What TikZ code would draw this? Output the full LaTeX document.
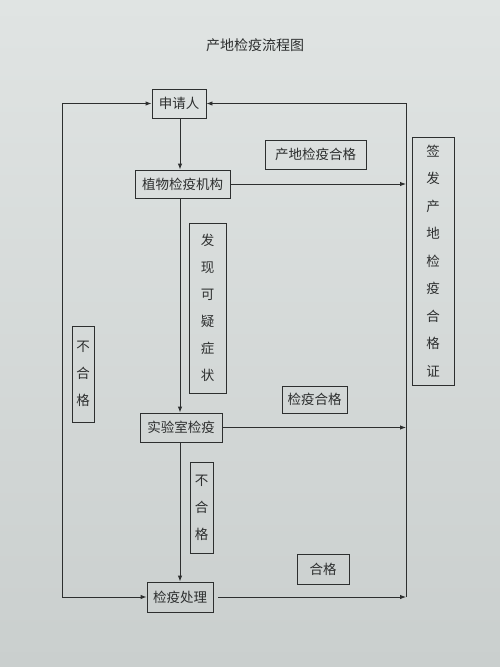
\documentclass[tikz,border=0pt]{standalone}
\usepackage{fontspec}
\setmainfont{Liberation Serif}
\newfontfamily\cjk{Noto Sans CJK SC}
\usetikzlibrary{arrows.meta}
\definecolor{paperT}{RGB}{224,228,227}
\definecolor{paperB}{RGB}{202,207,206}
\definecolor{ink}{RGB}{45,47,47}
\tikzset{
  box/.style={draw=ink, line width=0.9pt, inner sep=0pt, text=ink, font=\cjk\fontsize{13.5}{27}\selectfont, align=center},
  arr/.style={draw=ink, line width=0.9pt, -{Latex[length=6pt,width=4.5pt]}},
  dbl/.style={draw=ink, line width=0.9pt, {Latex[length=6pt,width=4.5pt]}-{Latex[length=6pt,width=4.5pt]}},
  ln/.style={draw=ink, line width=0.9pt}
}
\begin{document}
\begin{tikzpicture}[x=1pt,y=-1pt]
\shade[top color=paperT, bottom color=paperB] (0,0) rectangle (500,667);
\useasboundingbox (0,0) rectangle (500,667);

\node[text=ink, font=\cjk\fontsize{14}{16}\selectfont] (title) at (255,45) {产地检疫流程图};

\node[box, minimum width=54pt, minimum height=29pt] (sq) at (179,103.5) {申请人};
\node[box, minimum width=95pt, minimum height=28pt] (zw) at (182.5,184) {植物检疫机构};
\node[box, minimum width=82pt, minimum height=29pt] (sy) at (181,427.5) {实验室检疫};
\node[box, minimum width=66pt, minimum height=30pt] (cl) at (180,597) {检疫处理};

\node[box, minimum width=101pt, minimum height=29pt] (lab1) at (315.5,154.5) {产地检疫合格};
\node[box, minimum width=65pt, minimum height=27pt] (lab2) at (314.5,399.5) {检疫合格};
\node[box, minimum width=52pt, minimum height=30pt] (lab3) at (323,569) {合格};

\node[box, minimum width=37pt, minimum height=170pt] (fx) at (207.5,308) {发\\现\\可\\疑\\症\\状};
\node[box, minimum width=22pt, minimum height=96pt] (bh1) at (83,374) {不\\合\\格};
\node[box, minimum width=23pt, minimum height=91pt] (bh2) at (201.5,507.5) {不\\合\\格};
\node[box, minimum width=42pt, minimum height=248pt, font=\cjk\fontsize{13.5}{27.5}\selectfont] (qf) at (433,261) {签\\发\\产\\地\\检\\疫\\合\\格\\证};

\coordinate (rx) at (406,0);
\coordinate (lx) at (62,0);
\coordinate (vx) at (180,0);
\coordinate (rb) at (406,597);

\draw[arr] (sq.south -| vx) -- (zw.north -| vx);
\draw[arr] (zw.south -| vx) -- (sy.north -| vx);
\draw[arr] (sy.south -| vx) -- (cl.north -| vx);

\draw[arr] (zw.east) -- (zw.east -| rx);
\draw[arr] (sy.east) -- (sy.east -| rx);
\draw[arr] ([xshift=5pt]cl.east) -- (rb);
\draw[arr] (rb) |- (sq.east);

\draw[dbl] (sq.west) -| (lx |- cl.west) -- (cl.west);
\end{tikzpicture}
\end{document}
